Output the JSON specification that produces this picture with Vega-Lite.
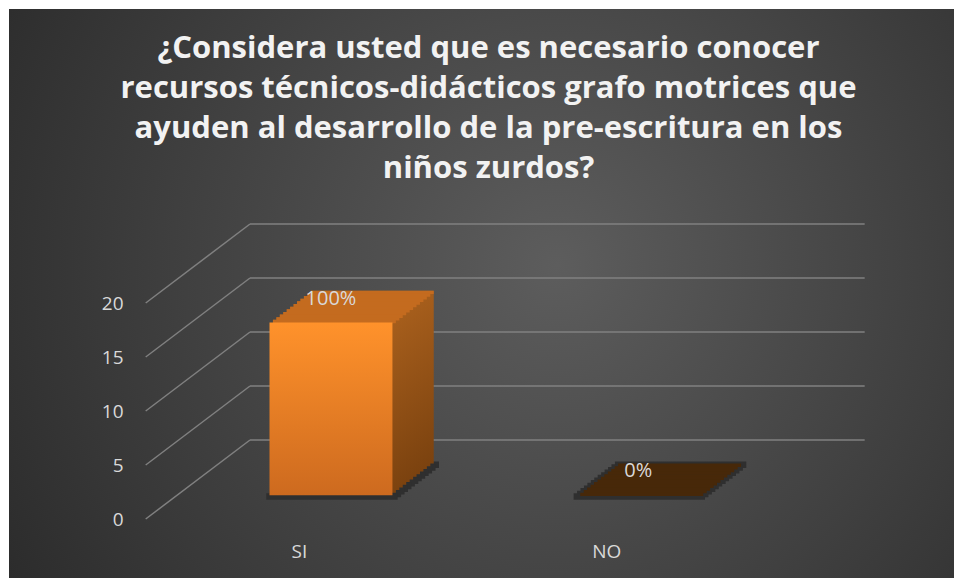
{
  "$schema": "https://vega.github.io/schema/vega-lite/v6.json",
  "width": 945,
  "height": 569,
  "autosize": {"type": "none"},
  "padding": {"left": 9, "top": 9, "right": 0, "bottom": 0},
  "background": "white",
  "config": {
    "view": {"stroke": null, "fill": {"gradient": "radial", "x1": 0.58, "y1": 0.47, "r1": 0, "x2": 0.58, "y2": 0.47, "r2": 0.72, "stops": [{"offset": 0, "color": "#5d5d5d"}, {"offset": 1, "color": "#282828"}]}},
    "axisX": {"orient": "bottom", "domain": false, "ticks": false, "grid": false, "labelAngle": 0, "labelFont": "Open Sans", "labelFontSize": 19, "labelColor": "#d9d9d9", "labelBaseline": "alphabetic", "labelPadding": 0, "offset": -20.3, "labelOffset": -104.3},
    "axisY": {"domain": false, "ticks": false, "grid": false, "labelFont": "Open Sans", "labelFontSize": 19, "labelColor": "#d9d9d9", "labelPadding": 0, "offset": -114, "labelOffset": 80}
  },
  "title": {
    "text": ["¿Considera usted que es necesario conocer", "recursos técnicos-didácticos grafo motrices que", "ayuden al desarrollo de la pre-escritura en los", "niños zurdos?"],
    "font": "Open Sans", "fontSize": 31, "fontWeight": "bold", "color": "#f2f2f2",
    "lineHeight": 40, "anchor": "middle", "frame": "group", "baseline": "top", "offset": 0, "dx": 7, "dy": 176
  },
  "datasets": {
    "bars": [{"cat": "SI", "v": 16, "pct": "100%"}, {"cat": "NO", "v": 0, "pct": "0%"}],
    "ticks": [{"t": 0}, {"t": 5}, {"t": 10}, {"t": 15}, {"t": 20}]
  },
  "layer": [
    {
      "data": {"name": "ticks"},
      "mark": {"type": "rule", "color": "#808080", "strokeWidth": 1.5},
      "encoding": {
        "x": {"datum": "SI", "type": "nominal", "bandPosition": 0, "scale": {"domain": ["SI", "NO"], "paddingInner": 0, "paddingOuter": 0.5374, "align": 0.7296}, "axis": {"title": null}},
        "x2": {"datum": "NO", "bandPosition": 1},
        "y": {"field": "t", "type": "quantitative", "scale": {"domain": [-12.778, 39.907], "nice": false, "zero": false}, "axis": {"values": [0, 5, 10, 15, 20], "title": null}}
      }
    },
    {
      "data": {"name": "ticks"},
      "mark": {"type": "rule", "color": "#808080", "strokeWidth": 1.5, "x2Offset": -104.3, "y2Offset": 79},
      "encoding": {
        "x": {"datum": "SI", "type": "nominal", "bandPosition": 0, "scale": {"domain": ["SI", "NO"], "paddingInner": 0, "paddingOuter": 0.5374, "align": 0.7296}, "axis": {"title": null}},
        "x2": {"datum": "SI", "bandPosition": 0},
        "y": {"field": "t", "type": "quantitative", "scale": {"domain": [-12.778, 39.907], "nice": false, "zero": false}, "axis": {"values": [0, 5, 10, 15, 20], "title": null}},
        "y2": {"field": "t"}
      }
    },
    {
      "data": {"name": "bars"},
      "layer": [
        {"mark": {"type": "bar", "width": {"band": 0.4275}, "xOffset": -30.4, "x2Offset": -30.4, "yOffset": 21.6, "y2Offset": 28.1, "color": "#2f2f2f"}},
        {"mark": {"type": "bar", "width": {"band": 0.4275}, "xOffset": -33.84, "x2Offset": -33.84, "yOffset": 24.24, "y2Offset": 30.74, "color": "#2f2f2f"}},
        {"mark": {"type": "bar", "width": {"band": 0.4275}, "xOffset": -37.28, "x2Offset": -37.28, "yOffset": 26.88, "y2Offset": 33.38, "color": "#2f2f2f"}},
        {"mark": {"type": "bar", "width": {"band": 0.4275}, "xOffset": -40.73, "x2Offset": -40.73, "yOffset": 29.53, "y2Offset": 36.03, "color": "#2f2f2f"}},
        {"mark": {"type": "bar", "width": {"band": 0.4275}, "xOffset": -44.17, "x2Offset": -44.17, "yOffset": 32.17, "y2Offset": 38.67, "color": "#2f2f2f"}},
        {"mark": {"type": "bar", "width": {"band": 0.4275}, "xOffset": -47.61, "x2Offset": -47.61, "yOffset": 34.81, "y2Offset": 41.31, "color": "#2f2f2f"}},
        {"mark": {"type": "bar", "width": {"band": 0.4275}, "xOffset": -51.05, "x2Offset": -51.05, "yOffset": 37.45, "y2Offset": 43.95, "color": "#2f2f2f"}},
        {"mark": {"type": "bar", "width": {"band": 0.4275}, "xOffset": -54.49, "x2Offset": -54.49, "yOffset": 40.09, "y2Offset": 46.59, "color": "#2f2f2f"}},
        {"mark": {"type": "bar", "width": {"band": 0.4275}, "xOffset": -57.93, "x2Offset": -57.93, "yOffset": 42.73, "y2Offset": 49.23, "color": "#2f2f2f"}},
        {"mark": {"type": "bar", "width": {"band": 0.4275}, "xOffset": -61.38, "x2Offset": -61.38, "yOffset": 45.38, "y2Offset": 51.88, "color": "#2f2f2f"}},
        {"mark": {"type": "bar", "width": {"band": 0.4275}, "xOffset": -64.82, "x2Offset": -64.82, "yOffset": 48.02, "y2Offset": 54.52, "color": "#2f2f2f"}},
        {"mark": {"type": "bar", "width": {"band": 0.4275}, "xOffset": -68.26, "x2Offset": -68.26, "yOffset": 50.66, "y2Offset": 57.16, "color": "#2f2f2f"}},
        {"mark": {"type": "bar", "width": {"band": 0.4275}, "xOffset": -71.7, "x2Offset": -71.7, "yOffset": 53.3, "y2Offset": 59.8, "color": "#2f2f2f"}}
      ],
      "encoding": {
        "x": {"field": "cat", "type": "nominal", "sort": ["SI", "NO"], "scale": {"domain": ["SI", "NO"], "paddingInner": 0, "paddingOuter": 0.5374, "align": 0.7296}, "axis": {"title": null}},
        "y": {"datum": 0, "type": "quantitative", "scale": {"domain": [-12.778, 39.907], "nice": false, "zero": false}, "axis": {"values": [0, 5, 10, 15, 20], "title": null}},
        "y2": {"datum": 0}
      }
    },
    {
      "data": {"name": "bars"},
      "layer": [
        {"mark": {"type": "bar", "width": {"band": 0.4}, "xOffset": -31.4, "x2Offset": -31.4, "yOffset": 23.6, "y2Offset": 23.6, "color": {"gradient": "linear", "x1": 0, "y1": 0, "x2": 0, "y2": 1, "stops": [{"offset": 0, "color": "#a65e1c"}, {"offset": 1, "color": "#7b420f"}]}}},
        {"mark": {"type": "bar", "width": {"band": 0.4}, "xOffset": -34.84, "x2Offset": -34.84, "yOffset": 26.24, "y2Offset": 26.24, "color": {"gradient": "linear", "x1": 0, "y1": 0, "x2": 0, "y2": 1, "stops": [{"offset": 0, "color": "#a65e1c"}, {"offset": 1, "color": "#7b420f"}]}}},
        {"mark": {"type": "bar", "width": {"band": 0.4}, "xOffset": -38.28, "x2Offset": -38.28, "yOffset": 28.88, "y2Offset": 28.88, "color": {"gradient": "linear", "x1": 0, "y1": 0, "x2": 0, "y2": 1, "stops": [{"offset": 0, "color": "#a65e1c"}, {"offset": 1, "color": "#7b420f"}]}}},
        {"mark": {"type": "bar", "width": {"band": 0.4}, "xOffset": -41.73, "x2Offset": -41.73, "yOffset": 31.53, "y2Offset": 31.53, "color": {"gradient": "linear", "x1": 0, "y1": 0, "x2": 0, "y2": 1, "stops": [{"offset": 0, "color": "#a65e1c"}, {"offset": 1, "color": "#7b420f"}]}}},
        {"mark": {"type": "bar", "width": {"band": 0.4}, "xOffset": -45.17, "x2Offset": -45.17, "yOffset": 34.17, "y2Offset": 34.17, "color": {"gradient": "linear", "x1": 0, "y1": 0, "x2": 0, "y2": 1, "stops": [{"offset": 0, "color": "#a65e1c"}, {"offset": 1, "color": "#7b420f"}]}}},
        {"mark": {"type": "bar", "width": {"band": 0.4}, "xOffset": -48.61, "x2Offset": -48.61, "yOffset": 36.81, "y2Offset": 36.81, "color": {"gradient": "linear", "x1": 0, "y1": 0, "x2": 0, "y2": 1, "stops": [{"offset": 0, "color": "#a65e1c"}, {"offset": 1, "color": "#7b420f"}]}}},
        {"mark": {"type": "bar", "width": {"band": 0.4}, "xOffset": -52.05, "x2Offset": -52.05, "yOffset": 39.45, "y2Offset": 39.45, "color": {"gradient": "linear", "x1": 0, "y1": 0, "x2": 0, "y2": 1, "stops": [{"offset": 0, "color": "#a65e1c"}, {"offset": 1, "color": "#7b420f"}]}}},
        {"mark": {"type": "bar", "width": {"band": 0.4}, "xOffset": -55.49, "x2Offset": -55.49, "yOffset": 42.09, "y2Offset": 42.09, "color": {"gradient": "linear", "x1": 0, "y1": 0, "x2": 0, "y2": 1, "stops": [{"offset": 0, "color": "#a65e1c"}, {"offset": 1, "color": "#7b420f"}]}}},
        {"mark": {"type": "bar", "width": {"band": 0.4}, "xOffset": -58.93, "x2Offset": -58.93, "yOffset": 44.73, "y2Offset": 44.73, "color": {"gradient": "linear", "x1": 0, "y1": 0, "x2": 0, "y2": 1, "stops": [{"offset": 0, "color": "#a65e1c"}, {"offset": 1, "color": "#7b420f"}]}}},
        {"mark": {"type": "bar", "width": {"band": 0.4}, "xOffset": -62.38, "x2Offset": -62.38, "yOffset": 47.38, "y2Offset": 47.38, "color": {"gradient": "linear", "x1": 0, "y1": 0, "x2": 0, "y2": 1, "stops": [{"offset": 0, "color": "#a65e1c"}, {"offset": 1, "color": "#7b420f"}]}}},
        {"mark": {"type": "bar", "width": {"band": 0.4}, "xOffset": -65.82, "x2Offset": -65.82, "yOffset": 50.02, "y2Offset": 50.02, "color": {"gradient": "linear", "x1": 0, "y1": 0, "x2": 0, "y2": 1, "stops": [{"offset": 0, "color": "#a65e1c"}, {"offset": 1, "color": "#7b420f"}]}}},
        {"mark": {"type": "bar", "width": {"band": 0.4}, "xOffset": -69.26, "x2Offset": -69.26, "yOffset": 52.66, "y2Offset": 52.66, "color": {"gradient": "linear", "x1": 0, "y1": 0, "x2": 0, "y2": 1, "stops": [{"offset": 0, "color": "#a65e1c"}, {"offset": 1, "color": "#7b420f"}]}}}
      ],
      "encoding": {
        "x": {"field": "cat", "type": "nominal", "sort": ["SI", "NO"], "scale": {"domain": ["SI", "NO"], "paddingInner": 0, "paddingOuter": 0.5374, "align": 0.7296}, "axis": {"title": null}},
        "y": {"field": "v", "type": "quantitative", "scale": {"domain": [-12.778, 39.907], "nice": false, "zero": false}, "axis": {"values": [0, 5, 10, 15, 20], "title": null}},
        "y2": {"datum": 0}
      }
    },
    {
      "data": {"name": "bars"},
      "layer": [
        {"mark": {"type": "bar", "width": {"band": 0.4}, "xOffset": -31.4, "x2Offset": -31.4, "yOffset": 23.6, "y2Offset": 26.9}},
        {"mark": {"type": "bar", "width": {"band": 0.4}, "xOffset": -34.84, "x2Offset": -34.84, "yOffset": 26.24, "y2Offset": 29.54}},
        {"mark": {"type": "bar", "width": {"band": 0.4}, "xOffset": -38.28, "x2Offset": -38.28, "yOffset": 28.88, "y2Offset": 32.18}},
        {"mark": {"type": "bar", "width": {"band": 0.4}, "xOffset": -41.73, "x2Offset": -41.73, "yOffset": 31.53, "y2Offset": 34.83}},
        {"mark": {"type": "bar", "width": {"band": 0.4}, "xOffset": -45.17, "x2Offset": -45.17, "yOffset": 34.17, "y2Offset": 37.47}},
        {"mark": {"type": "bar", "width": {"band": 0.4}, "xOffset": -48.61, "x2Offset": -48.61, "yOffset": 36.81, "y2Offset": 40.11}},
        {"mark": {"type": "bar", "width": {"band": 0.4}, "xOffset": -52.05, "x2Offset": -52.05, "yOffset": 39.45, "y2Offset": 42.75}},
        {"mark": {"type": "bar", "width": {"band": 0.4}, "xOffset": -55.49, "x2Offset": -55.49, "yOffset": 42.09, "y2Offset": 45.39}},
        {"mark": {"type": "bar", "width": {"band": 0.4}, "xOffset": -58.93, "x2Offset": -58.93, "yOffset": 44.73, "y2Offset": 48.03}},
        {"mark": {"type": "bar", "width": {"band": 0.4}, "xOffset": -62.38, "x2Offset": -62.38, "yOffset": 47.38, "y2Offset": 50.68}},
        {"mark": {"type": "bar", "width": {"band": 0.4}, "xOffset": -65.82, "x2Offset": -65.82, "yOffset": 50.02, "y2Offset": 53.32}},
        {"mark": {"type": "bar", "width": {"band": 0.4}, "xOffset": -69.26, "x2Offset": -69.26, "yOffset": 52.66, "y2Offset": 55.96}}
      ],
      "encoding": {
        "x": {"field": "cat", "type": "nominal", "sort": ["SI", "NO"], "scale": {"domain": ["SI", "NO"], "paddingInner": 0, "paddingOuter": 0.5374, "align": 0.7296}, "axis": {"title": null}},
        "y": {"field": "v", "type": "quantitative", "scale": {"domain": [-12.778, 39.907], "nice": false, "zero": false}, "axis": {"values": [0, 5, 10, 15, 20], "title": null}},
        "y2": {"field": "v"},
        "color": {"condition": {"test": "datum.cat === 'SI'", "value": "#c46b1f"}, "value": "#472809"}
      }
    },
    {
      "data": {"name": "bars"},
      "mark": {"type": "bar", "width": {"band": 0.4}, "xOffset": -72.7, "x2Offset": -72.7, "yOffset": 55.3, "y2Offset": 55.3, "color": {"gradient": "linear", "x1": 0, "y1": 0, "x2": 0, "y2": 1, "stops": [{"offset": 0, "color": "#ff922b"}, {"offset": 1, "color": "#cd6a1f"}]}},
      "encoding": {
        "x": {"field": "cat", "type": "nominal", "sort": ["SI", "NO"], "scale": {"domain": ["SI", "NO"], "paddingInner": 0, "paddingOuter": 0.5374, "align": 0.7296}, "axis": {"title": null}},
        "y": {"field": "v", "type": "quantitative", "scale": {"domain": [-12.778, 39.907], "nice": false, "zero": false}, "axis": {"values": [0, 5, 10, 15, 20], "title": null}},
        "y2": {"datum": 0}
      }
    },
    {
      "data": {"name": "bars"},
      "mark": {"type": "text", "xOffset": -72.7, "yOffset": 37.5, "baseline": "alphabetic", "align": "center", "font": "Open Sans", "fontSize": 20, "color": "#d9d9d9"},
      "encoding": {
        "x": {"field": "cat", "type": "nominal", "sort": ["SI", "NO"], "scale": {"domain": ["SI", "NO"], "paddingInner": 0, "paddingOuter": 0.5374, "align": 0.7296}, "axis": {"title": null}},
        "y": {"field": "v", "type": "quantitative", "scale": {"domain": [-12.778, 39.907], "nice": false, "zero": false}, "axis": {"values": [0, 5, 10, 15, 20], "title": null}},
        "text": {"field": "pct"}
      }
    }
  ]
}
